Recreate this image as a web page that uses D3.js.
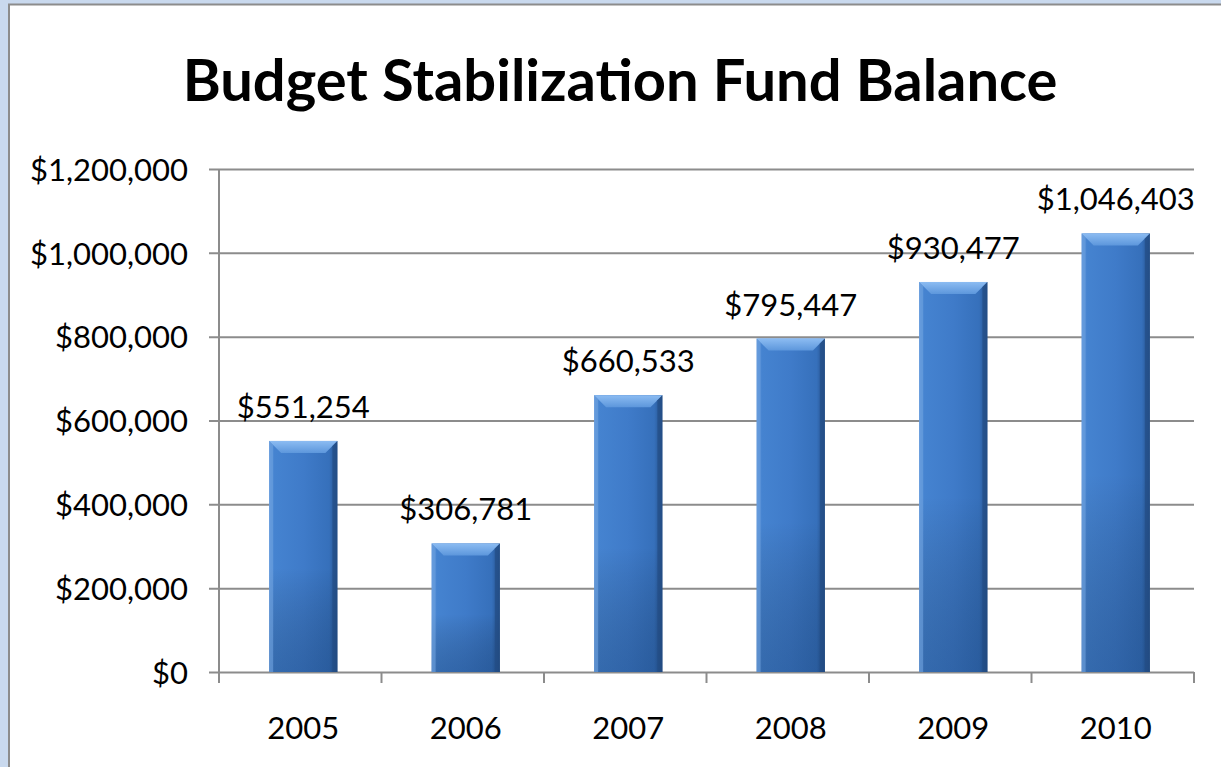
<!DOCTYPE html>
<html>
<head>
<meta charset="utf-8">
<script src="https://cdn.jsdelivr.net/npm/d3@7"></script>
<style>
  html, body { margin: 0; padding: 0; background: #c9d9ee; }
  svg { display: block; }
</style>
</head>
<body>
<svg id="chart" width="1221" height="767"></svg>
<script>
// Fund balance at year end
const years = ["2005", "2006", "2007", "2008", "2009", "2010"];
const balances = [551254, 306781, 660533, 795447, 930477, 1046403];
const yTicks = [0, 200000, 400000, 600000, 800000, 1000000, 1200000];
const titleText = "Budget Stabilization Fund Balance";

const W = 1221, H = 767;
const svg = d3.select("#chart");
const FONT = "Lato, 'Open Sans', sans-serif";

// page frame
svg.append("rect").attr("x", 0).attr("y", 0).attr("width", W).attr("height", H).attr("fill", "#c9d9ee");
svg.append("rect").attr("x", 9).attr("y", 4.5).attr("width", W).attr("height", H)
  .attr("fill", "#ffffff").attr("stroke", "#8c8c8c").attr("stroke-width", 2);

const plot = { left: 219, right: 1194, top: 169, bottom: 672 };

// bars sit a few pixels right of the category centres
const x = d3.scaleBand().domain(years).range([plot.left + 3, plot.right + 3]).paddingInner(0.58).paddingOuter(0.29);
const y = d3.scaleLinear().domain([0, 1200000]).range([plot.bottom, plot.top]);

const money = d3.format("$,.0f");

// title, fitted to its width
const title = svg.append("text")
  .attr("x", 620).attr("y", 101)
  .attr("text-anchor", "middle")
  .attr("font-family", FONT).attr("font-weight", 700)
  .attr("font-size", 60).attr("fill", "#000")
  .text(titleText);
const tw = title.node().getComputedTextLength();
title.attr("font-size", 60 * 875 / tw);

// gridlines + y axis
const yAxis = d3.axisLeft(y).tickValues(yTicks).tickFormat(money)
  .tickSize(-(plot.right - plot.left)).tickSizeOuter(0).tickPadding(31);
const gy = svg.append("g").attr("transform", `translate(${plot.left},0)`).call(yAxis);
gy.select(".domain").remove();
gy.selectAll(".tick line").attr("stroke", "#8c8c8c").attr("stroke-width", 2).attr("x1", -10);
gy.selectAll(".tick text").attr("font-family", FONT).attr("font-size", 31).attr("fill", "#000")
  .attr("dy", "0.36em");
svg.append("line").attr("x1", plot.left).attr("x2", plot.left)
  .attr("y1", plot.top).attr("y2", plot.bottom + 10)
  .attr("stroke", "#8c8c8c").attr("stroke-width", 2);

// category tick marks at band boundaries
const step = x.step();
const bounds = d3.range(years.length + 1).map(i => plot.left + i * step);
svg.append("g").selectAll("line").data(bounds).join("line")
  .attr("x1", d => d).attr("x2", d => d)
  .attr("y1", plot.bottom).attr("y2", plot.bottom + 11)
  .attr("stroke", "#8c8c8c").attr("stroke-width", 2);

// bar fill gradients
const defs = svg.append("defs");
const g1 = defs.append("linearGradient").attr("id", "barBody").attr("x1", 0).attr("x2", 1).attr("y1", 0).attr("y2", 0);
[[0, "#5b93d8"], [0.08, "#4583d0"], [0.5, "#3f7bc9"], [0.88, "#3670bb"], [1, "#24508a"]]
  .forEach(([o, c]) => g1.append("stop").attr("offset", o).attr("stop-color", c));
const g2 = defs.append("linearGradient").attr("id", "barShade").attr("x1", 0).attr("x2", 0).attr("y1", 0).attr("y2", 1);
[[0, "#ffffff", 0], [0.55, "#000000", 0], [1, "#0a2a55", 0.28]]
  .forEach(([o, c, a]) => g2.append("stop").attr("offset", o).attr("stop-color", c).attr("stop-opacity", a));
const g3 = defs.append("linearGradient").attr("id", "bevelTop").attr("x1", 0).attr("x2", 0).attr("y1", 0).attr("y2", 1);
[[0, "#8cbcf2"], [1, "#5d97dc"]]
  .forEach(([o, c]) => g3.append("stop").attr("offset", o).attr("stop-color", c));

const bars = svg.append("g").selectAll("g").data(years.map((yr, i) => ({ yr, v: balances[i] }))).join("g");
bars.append("rect")
  .attr("x", d => x(d.yr)).attr("width", x.bandwidth())
  .attr("y", d => y(d.v)).attr("height", d => y(0) - y(d.v))
  .attr("fill", "url(#barBody)");
bars.append("rect")
  .attr("x", d => x(d.yr)).attr("width", x.bandwidth())
  .attr("y", d => y(d.v)).attr("height", d => y(0) - y(d.v))
  .attr("fill", "url(#barShade)");
// bevelled top
const bev = 12;
bars.append("polygon")
  .attr("points", d => {
    const x0 = x(d.yr), x1 = x0 + x.bandwidth(), t = y(d.v);
    return `${x0},${t} ${x1},${t} ${x1 - bev},${t + bev} ${x0 + bev},${t + bev}`;
  })
  .attr("fill", "url(#bevelTop)");
bars.append("polygon")
  .attr("points", d => {
    const x0 = x(d.yr), t = y(d.v), b = y(0);
    return `${x0},${t} ${x0 + 4},${t + 4} ${x0 + 4},${b} ${x0},${b}`;
  })
  .attr("fill", "#6ea2e0").attr("opacity", 0.6);
bars.append("polygon")
  .attr("points", d => {
    const x1 = x(d.yr) + x.bandwidth(), t = y(d.v), b = y(0);
    return `${x1},${t} ${x1 - 5},${t + 5} ${x1 - 5},${b} ${x1},${b}`;
  })
  .attr("fill", "#234d85").attr("opacity", 0.7);

// value labels
bars.append("text")
  .attr("x", d => x(d.yr) + x.bandwidth() / 2)
  .attr("y", d => y(d.v) - 23)
  .attr("text-anchor", "middle")
  .attr("font-family", FONT).attr("font-size", 31).attr("fill", "#000")
  .text(d => money(d.v));

// year labels
svg.append("g").selectAll("text").data(years).join("text")
  .attr("x", d => x(d) + x.bandwidth() / 2)
  .attr("y", 739)
  .attr("text-anchor", "middle")
  .attr("font-family", FONT).attr("font-size", 31).attr("fill", "#000")
  .text(d => d);
</script>
</body>
</html>
